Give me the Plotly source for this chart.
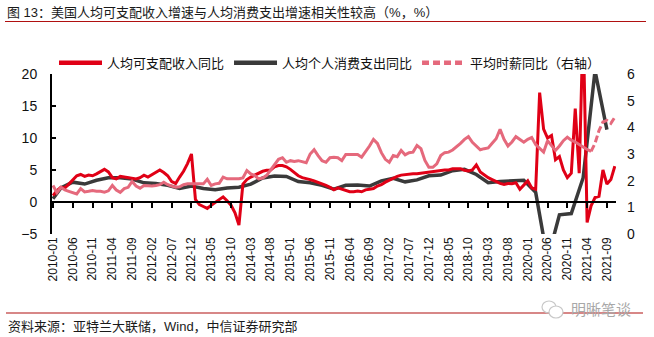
import plotly.graph_objects as go

# ---------------- data ----------------
months = [f"{y}-{m:02d}" for y in range(2010, 2022) for m in range(1, 13)][:143]
tick_labels = months[::5]

# 人均可支配收入同比 (%), monthly 2010-01 .. 2021-11
income_yoy = [
    1.0, 1.8, 2.3, 2.2, 2.8, 3.5, 4.1, 4.3, 4.0, 4.2, 4.1, 4.4,      # 2010
    4.8, 5.1, 4.7, 3.8, 3.6, 4.0, 3.9, 3.8, 3.6, 3.6, 3.8, 4.2,      # 2011
    3.9, 4.3, 4.6, 5.0, 4.6, 4.1, 3.2, 2.9, 3.9, 4.8, 6.0, 7.5,      # 2012
    0.4, -0.4, -0.7, -1.0, -0.5, -0.1, 0.3, 0.8, 0.2, -0.5, -1.7, -3.6,  # 2013
    2.8, 3.5, 3.9, 4.2, 4.5, 4.8, 4.95, 5.0, 5.5, 5.7, 5.7, 5.5,     # 2014
    5.1, 4.6, 4.1, 3.8, 3.7, 3.5, 3.3, 3.1, 2.9, 2.6, 2.3, 1.9,      # 2015
    2.2, 2.0, 1.9, 1.6, 1.6, 1.7, 1.6, 1.9, 2.0, 2.1, 2.5, 2.7,      # 2016
    3.1, 3.4, 3.8, 4.0, 4.2, 4.3, 4.3, 4.4, 4.4, 4.5, 4.6, 4.6,      # 2017
    4.7, 4.8, 4.95, 5.0, 5.0, 5.2, 5.2, 5.2, 4.95, 4.85, 5.0, 5.8,   # 2018
    4.7, 4.2, 3.8, 3.5, 3.2, 2.9, 2.75, 2.9, 2.85, 3.0, 2.0, 2.7,    # 2019
    3.3, 2.2, 2.0, 17.1, 11.4, 10.0, 10.4, 6.6, 7.1, 5.0, 3.8, 4.5,  # 2020
    14.6, 4.5, 28.0, -3.2, -0.6, 0.7, 0.9, 5.0, 2.8, 3.5, 5.6,       # 2021
]

# 人均个人消费支出同比 (%), quarterly points
pce_months = ["2010-01"] + [f"{y}-{m:02d}" for y in range(2010, 2022) for m in (3, 6, 9, 12)][:47]
pce_yoy = [
    0.5,
    2.2, 3.1, 2.8, 3.4,      # 2010
    3.8, 3.8, 3.6, 3.0,      # 2011
    2.9, 2.6, 2.1, 2.5,      # 2012
    2.1, 1.9, 2.2, 2.3,      # 2013
    2.8, 3.75, 4.05, 4.0,    # 2014
    3.2, 3.0, 2.6, 2.0,      # 2015
    2.6, 2.65, 2.5, 3.3,     # 2016
    3.7, 3.15, 3.45, 4.1,    # 2017
    4.2, 4.9, 5.1, 4.3,      # 2018
    3.0, 3.2, 3.3, 3.4,      # 2019
    1.5, -9.0, -2.0, -1.8,   # 2020
    3.8, 20.5, 11.3,         # 2021
]

# 平均时薪同比 (%, 右轴), monthly
wage_yoy = [
    1.82, 1.55, 1.75, 1.65, 1.6, 1.55, 1.5, 1.7, 1.58, 1.6, 1.63, 1.6,
    1.6, 1.57, 1.62, 1.82, 1.65, 1.56, 1.7, 1.75, 1.97, 1.8, 1.72, 1.82,
    1.8, 1.8, 1.82, 1.85, 1.94, 1.85, 1.8, 1.75, 1.77, 1.85, 1.88, 1.88,
    1.88, 1.88, 1.88, 2.05, 1.82, 1.88, 1.9, 2.13, 2.07, 2.07, 2.07, 2.07,
    2.1, 2.38, 2.25, 2.19, 2.07, 2.1, 2.2, 2.4, 2.57, 2.8, 2.86, 2.69,
    2.75, 2.72, 2.75, 2.7, 2.67, 3.0, 3.16, 2.94, 2.75, 2.69, 2.86, 2.88,
    2.86, 2.75, 2.98, 2.98, 2.98, 2.98, 2.88, 3.07, 3.3, 3.55, 3.4, 3.05,
    2.8, 2.69, 2.94, 2.9, 3.13, 2.97, 3.05, 3.07, 3.32, 3.2, 2.76, 2.5,
    2.5, 2.63, 2.94, 3.05, 3.07, 3.15, 3.26, 3.4, 3.55, 3.65, 3.44, 3.3,
    3.16, 3.2, 3.23, 3.4, 3.57, 3.93, 3.55, 3.3, 3.45, 3.65, 3.55, 3.44,
    3.55, 3.62, 3.35, 3.2, 3.07, 3.5, 3.3, 3.13, 3.3, 3.5, 3.63, 3.52,
    3.45, 3.35, 3.25, 3.17, 3.1, 3.4, 3.88, 4.2, 4.26, 4.15, 4.38,
]

names = ["人均可支配收入同比", "人均个人消费支出同比", "平均时薪同比（右轴）"]
RED, DARK, PINK = "#E00016", "#3A3A3A", "#E5697C"
FONT = "Arial, Liberation Sans, Noto Sans CJK SC, sans-serif"

# ---------------- geometry helpers (layout only) ----------------
L, R, T, B = 52, 616, 74, 234
def px_x(px):
    return (px - L) / (R - L)
def px_y(py):
    return (B - py) / (B - T)

fig = go.Figure()

# legend entries
fig.add_trace(go.Scatter(x=[None], y=[None], mode="lines", name=names[0],
                         line=dict(color=RED, width=4.5)))
fig.add_trace(go.Scatter(x=[None], y=[None], mode="lines", name=names[1],
                         line=dict(color=DARK, width=4.5)))
fig.add_trace(go.Scatter(x=[None], y=[None], mode="lines", name=names[2],
                         line=dict(color=PINK, width=4.5, dash="7px,4px")))

# data traces
split = months.index("2021-05")
fig.add_trace(go.Scatter(x=months[:split + 1], y=wage_yoy[:split + 1], yaxis="y2", mode="lines",
                         line=dict(color=PINK, width=3), showlegend=False))
fig.add_trace(go.Scatter(x=months[split:], y=wage_yoy[split:], yaxis="y2", mode="lines",
                         line=dict(color=PINK, width=3, dash="7px,3px"), showlegend=False))
fig.add_trace(go.Scatter(x=pce_months, y=pce_yoy, mode="lines",
                         line=dict(color=DARK, width=3.5), showlegend=False))
fig.add_trace(go.Scatter(x=months, y=income_yoy, mode="lines",
                         line=dict(color=RED, width=3), showlegend=False))
# carrier for the zero-level axis
fig.add_trace(go.Scatter(x=months, y=[None] * len(months), xaxis="x2", mode="lines",
                         showlegend=False, hoverinfo="skip"))

fig.update_layout(
    width=654, height=337,
    margin=dict(l=L, r=654 - R, t=T, b=337 - B),
    paper_bgcolor="white", plot_bgcolor="white",
    font=dict(family=FONT, size=13, color="#111111"),
    showlegend=True,
    legend=dict(orientation="h", x=px_x(54), y=px_y(62.7), xanchor="left", yanchor="middle",
                font=dict(size=13, color="#111111"), itemwidth=43,
                bgcolor="rgba(0,0,0,0)", tracegroupgap=0),
    xaxis=dict(type="category", categoryorder="array", categoryarray=months,
               range=[-0.25, 142.3], showline=False, ticks="", showgrid=False, zeroline=False,
               tickmode="array", tickvals=tick_labels, ticktext=tick_labels, tickangle=-90,
               tickfont=dict(size=12, color="#111111")),
    xaxis2=dict(type="category", matches="x", overlaying="x", anchor="free", position=0.2,
                showline=True, linecolor="black", linewidth=2, showgrid=False, zeroline=False,
                ticks="outside", ticklen=5, tickwidth=2, tickcolor="black",
                tickmode="array", tickvals=tick_labels, showticklabels=False),
    yaxis=dict(range=[-5, 20], dtick=5, tick0=0, showline=True, linecolor="black", linewidth=2,
               ticks="inside", ticklen=4, tickwidth=1.5, tickcolor="black",
               showgrid=False, zeroline=False, ticklabelstandoff=10,
               tickfont=dict(size=14, color="#111111")),
    yaxis2=dict(range=[0, 6], dtick=1, overlaying="y", side="right", showline=False,
                ticks="", showgrid=False, zeroline=False, ticklabelstandoff=10,
                tickfont=dict(size=14, color="#111111")),
    shapes=[
        dict(type="line", xref="paper", yref="paper", x0=px_x(5), x1=px_x(646),
             y0=px_y(21.5), y1=px_y(21.5), line=dict(color="#B01010", width=1.2)),
        dict(type="line", xref="paper", yref="paper", x0=px_x(6), x1=px_x(643),
             y0=px_y(313), y1=px_y(313), line=dict(color="#B01010", width=1.2)),
        dict(type="circle", xref="paper", yref="paper", x0=px_x(542), x1=px_x(556),
             y0=px_y(313), y1=px_y(301), line=dict(color="#C8C8C8", width=1.2)),
        dict(type="circle", xref="paper", yref="paper", x0=px_x(549), x1=px_x(563),
             y0=px_y(318), y1=px_y(306), line=dict(color="#C8C8C8", width=1.2),
             fillcolor="white"),
    ],
    annotations=[
        dict(text="图 13：美国人均可支配收入增速与人均消费支出增速相关性较高（%，%）",
             xref="paper", yref="paper", x=px_x(5), y=px_y(12.5), xanchor="left", yanchor="middle",
             showarrow=False, font=dict(size=13, color="#1a1a1a")),
        dict(text="资料来源：亚特兰大联储，Wind，中信证券研究部",
             xref="paper", yref="paper", x=px_x(6), y=px_y(326.5), xanchor="left", yanchor="middle",
             showarrow=False, font=dict(size=13, color="#1a1a1a")),
        dict(text="明晰笔谈", xref="paper", yref="paper", x=px_x(633), y=px_y(309),
             xanchor="right", yanchor="middle", showarrow=False,
             font=dict(size=15, color="#A8A8A8")),
    ],
)

fig.write_html("out.html")
